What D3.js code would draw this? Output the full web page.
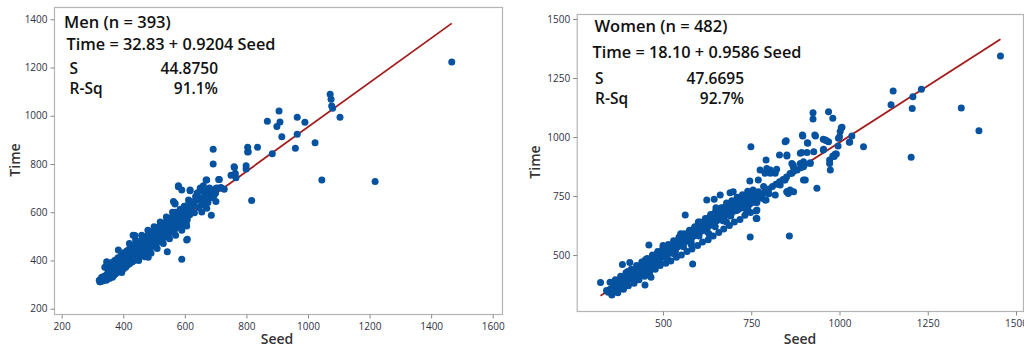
<!DOCTYPE html>
<html><head><meta charset="utf-8">
<script src="https://cdn.jsdelivr.net/npm/d3@7"></script>
<style>body{margin:0;background:#fff}svg{display:block}text{font-family:"Open Sans",sans-serif}</style>
</head><body>
<svg id="c" width="1024" height="347"></svg>
<script>
// ---------- DATA ----------
const menTitle = "Men (n = 393)";
const menEq = "Time = 32.83 + 0.9204 Seed";
const menS = "44.8750";
const menR = "91.1%";
const menIntercept = 32.83, menSlope = 0.9204;
const menXTicks = [200,400,600,800,1000,1200,1400,1600];
const menYTicks = [200,400,600,800,1000,1200,1400];
const menPoints = [
[322,318],[325,312],[328,322],[330,330],[333,315],[335,325],[338,335],[340,320],[342,330],[345,340],[347,328],[350,345],[352,335],[355,325],[356,350],[358,340],[360,333],[362,355],[364,345],[365,330],[367,360],[368,348],[370,340],[372,365],[373,352],[375,345],[377,370],[378,358],[380,350],[382,375],[383,362],[385,355],[386,385],[388,368],[390,360],[391,380],[393,372],[395,350],[396,390],[398,378],[400,365],[401,395],[403,385],[405,372],[406,400],[408,388],[410,378],[411,405],[413,392],[415,382],[416,410],[418,398],[420,386],[421,415],[423,402],[425,392],[426,420],[428,408],[430,396],[431,428],[433,414],[435,400],[436,432],[438,418],[440,405],[441,438],[443,424],[445,410],[446,442],[448,430],[450,415],[451,448],[453,436],[455,422],[456,452],[458,440],[460,428],[461,458],[463,446],[465,432],[466,462],[468,450],[470,438],[471,468],[473,456],[475,442],[476,472],[478,462],[480,448],[481,478],[483,466],[485,452],[486,485],[488,472],[490,458],[491,490],[493,478],[495,462],[496,495],[498,484],[500,470],[501,500],[503,488],[505,475],[506,505],[508,494],[510,480],[511,512],[513,498],[515,485],[516,518],[518,504],[520,490],[521,522],[523,510],[525,495],[526,528],[528,514],[530,500],[531,535],[533,520],[535,505],[536,540],[538,526],[540,512],[541,545],[543,530],[545,518],[546,550],[548,536],[550,522],[552,555],[554,540],[556,528],[558,560],[560,548],[562,535],[565,565],[567,552],[570,540],[572,572],[575,558],[578,548],[580,580],[583,565],[586,555],[590,590],[593,572],[596,562],[600,598],[604,580],[608,570],[612,605],[616,590],[620,620],[625,600],
[340,372],[345,318],[352,380],[358,330],[362,392],[368,338],[372,400],[378,352],[382,410],[388,358],[392,420],[398,370],[402,432],[408,372],[412,440],[418,388],[422,452],[428,395],[432,460],[438,405],[442,470],[448,412],[452,478],[458,425],[462,488],[468,430],[472,498],[478,442],[482,505],[488,450],[492,515],[498,462],[502,525],[508,470],[512,538],[518,480],[522,545],[528,490],[532,555],[538,500],[542,565],[548,512],[552,575],[558,520],[562,585],[568,530],[572,595],[578,540],[585,612],[592,550],[598,625],[605,560],[395,415],[415,440],[435,450],[455,470],[475,490],[495,510],[515,525],[535,545],[555,565],[575,580],[405,385],[425,405],[445,425],[465,445],[485,465],[505,485],[525,505],[545,525],[565,545],[585,570],
[420,470],[440,485],[460,505],[480,525],[500,540],[520,560],[540,580],[560,600],[450,400],[470,415],[490,430],[510,450],[530,470],[550,490],[570,505],[590,525],[410,420],[430,430],[450,455],[470,470],[490,485],[510,505],[530,520],[550,540],[570,560],[590,575],[380,395],[360,375],[350,360],[370,385],[390,400],[415,395],[435,415],[455,435],[475,455],[495,475],[515,495],[535,515],[555,535],[575,555],[595,580],
[579,706],[432,505],[384,443],[346,395],[606,485],[590,405],[481,413],[543,436],[438,504],[447,405],[348,388],[324,312],
[608,488],[606,543],[590,537],[563,644],[568,634],[579,710],[590,692],[612,651],[617,689],[631,598],[655,601],[671,616],[649,689],[660,695],[669,734],[686,587],[701,645],[701,699],[717,703],[728,695],[710,736],[692,861],[692,800],[750,753],[761,786],[764,761],[766,743],[799,793],[799,779],[804,869],[804,850],[836,869],[868,977],[884,842],[899,955],[906,1020],[909,974],[915,913],[959,865],[965,994],[965,923],[990,973],[1023,888],[1045,734],[1072,1089],[1075,1068],[1077,1040],[1080,1031],[1104,994],[1218,727],[1467,1223],[817,649],
[806,851],[760,789],[671,734],[712,736],[617,692],[660,692],[720,699],[568,637],
[640,650],[645,620],[650,660],[655,640],[660,630],[665,670],[670,655],[675,640],[680,680],[685,660],[690,690],[695,670],[700,680],[705,700],[630,640],[635,665],[625,630],[620,645],[615,620],[610,630],[605,615],[640,680],[650,700],[660,710],[670,690],[680,700],[600,620],[595,610],[585,600],[575,590],[570,600],[565,585],[560,578],[555,570],[550,565],[545,560],[540,555],[535,550],[530,545],[525,540],[520,535],[515,530],[510,525]
];

const womenTitle = "Women (n = 482)";
const womenEq = "Time = 18.10 + 0.9586 Seed";
const womenS = "47.6695";
const womenR = "92.7%";
const womenIntercept = 18.10, womenSlope = 0.9586;
const womenXTicks = [500,750,1000,1250,1500];
const womenYTicks = [500,750,1000,1250,1500];
const womenPoints = [
[340,350],[345,342],[350,355],[355,348],[358,360],[360,352],[363,365],[365,345],[368,372],[370,358],[372,365],[375,378],[378,362],[380,385],[382,370],[385,392],[387,378],[390,395],[392,382],[395,402],[397,388],[400,410],[402,395],[405,415],[407,400],[410,420],[412,405],[415,428],[417,410],[420,432],[422,415],[425,438],[427,420],[430,442],[432,425],[435,448],[437,430],[440,452],[442,435],[445,458],[447,440],[450,462],[452,445],[455,468],[457,450],[460,472],[462,455],[465,478],[467,460],[470,482],[472,465],[475,488],[477,470],[480,492],[482,475],[485,498],[487,480],[490,502],[492,485],[495,508],[497,490],[500,512],[502,495],[505,518],[507,500],[510,522],[512,505],[515,528],[517,510],[520,532],[522,515],[525,540],[527,520],[530,545],[532,525],[535,550],[537,530],[540,555],[542,535],[545,562],[547,540],[550,568],[552,545],[555,572],[557,550],[560,578],[562,555],[565,585],[567,560],[570,590],[572,565],[575,595],[577,570],[580,600],[582,575],[585,608],[587,580],[590,612],[592,585],[595,618],[597,590],[600,625],[602,595],[605,630],[607,600],[610,635],[612,605],[615,640],[617,610],[620,648],[622,615],[625,652],[627,620],[630,658],[632,625],[635,665],[637,630],[640,670],[642,635],[645,675],[647,640],[650,682],[652,645],[655,688],[657,650],[660,692],[665,660],[670,700],[675,665],[680,705],[685,672],[690,712],[695,680],[700,718],[705,688],[710,725],[715,695],[720,730],[725,700],[730,738],[735,705],[740,745],[745,715],[750,752],[755,722],[760,760],[765,730],[770,768],[780,740],[790,780],[800,760],
[350,385],[355,330],[365,395],[372,340],[380,410],[388,355],[395,425],[402,370],[410,440],[418,380],[425,455],[432,395],[440,470],[448,410],[455,485],[462,425],[470,500],[478,440],[485,515],[492,455],[500,530],[508,465],[515,545],[522,475],[530,560],[538,490],[545,575],[552,500],[560,590],[568,515],[575,605],[582,525],[590,620],[598,540],[605,640],[612,555],[620,655],[628,565],[635,672],[642,580],[650,690],[658,595],[665,700],[672,610],[680,720],[688,625],[695,730],[702,640],[710,745],[718,650],[725,755],[732,668],[740,770],[748,680],[755,775],[362,375],[385,395],[408,420],[430,440],[452,460],[475,485],[498,510],[520,530],[542,555],[565,575],[588,600],[610,620],[632,640],[655,665],[678,690],[700,710],[420,400],[445,420],[468,445],[490,470],[512,490],[535,515],[558,535],[580,555],[602,580],[625,600],[648,620],[670,645],[692,665],
[360,370],[375,390],[392,405],[410,425],[428,445],[445,462],[462,480],[480,500],[498,520],[515,535],[532,550],[550,560],[568,580],[585,595],[602,615],[620,635],[638,650],[655,675],[672,690],[690,690],[708,705],[725,720],[742,730],[760,750],[370,372],[390,388],[412,415],[435,430],[458,455],[480,480],[502,500],[525,525],[548,550],[570,570],[592,598],[615,615],[638,635],[660,680],[705,725],[725,740],[745,760],[400,430],[450,480],[500,540],[550,590],[600,640],[650,700],[380,360],[430,410],[480,460],[530,505],[580,545],[630,590],[680,640],
[323,383],[359,359],[385,460],[406,468],[460,542],[449,373],[466,406],[584,462],[563,670],[624,733],[645,736],[662,754],[690,764],[746,814],[747,576],[858,580],[749,959],[846,980],
[1456,1343],[1395,1027],[1345,1123],[1232,1202],[1208,1171],[1206,1121],[1152,1195],[1146,1137],[1203,914],[1068,959],[1035,1004],[1029,979],[1007,1041],[1002,1023],[1000,1001],[996,962],[991,928],[981,920],[972,903],[974,860],[972,888],[969,1107],[981,1079],[960,987],[969,980],[955,948],[925,1103],[925,1076],[932,1004],[910,973],[896,1004],[927,938],[908,934],[889,931],[917,888],[898,818],[936,783],[851,920],[830,924],
[792,903],[804,860],[818,754],[789,733],[764,655],[764,686],[766,722],[737,686],[732,733],[762,761],[785,790],[770,818],[804,846],[818,846],[832,797],[842,818],[865,846],[865,888],[870,768],[851,768],[889,888],[898,874],[794,867],[789,846],[775,860],
[849,984],[822,863],[699,768],[766,691],[766,655],[761,726],[792,733],[851,768],[869,874],[898,895],[903,818],[860,775],[1028,978],[1005,1039],[997,995],[988,928],[930,1008],[954,990],[962,985],[954,945],[909,976],[895,1008],[893,934],[851,924],[917,891],[869,881],[855,761],[846,818],[985,917],
[700,700],[710,690],[720,705],[730,715],[740,700],[750,725],[760,740],[770,745],[780,760],[790,765],[800,780],[810,790],[820,800],[830,810],[840,820],[850,830],[860,845],[870,855],[880,860],[890,870],[900,880],[680,690],[690,700],[660,670],[670,680]
];

// ---------- DRAW ----------
const svg = d3.select("#c");
const dotColor = "#0552a0", lineColor = "#a31d1d";

function panel(cfg){
  const g = svg.append("g");
  const x = d3.scaleLinear().domain(cfg.xDom).range(cfg.xRange);
  const y = d3.scaleLinear().domain(cfg.yDom).range(cfg.yRange);
  g.append("rect").attr("x",cfg.frame[0]+0.5).attr("y",cfg.frame[1]+0.5)
    .attr("width",cfg.frame[2]-cfg.frame[0]).attr("height",cfg.frame[3]-cfg.frame[1])
    .attr("fill","none").attr("stroke","#b4b4b4").attr("stroke-width",1.2);
  const xa = g.append("g").attr("transform",`translate(0,${cfg.frame[3]+0.5})`)
    .call(d3.axisBottom(x).tickValues(cfg.xTicks).tickSize(4).tickPadding(4).tickFormat(d3.format("d")));
  const ya = g.append("g").attr("transform",`translate(${cfg.frame[0]+0.5},0)`)
    .call(d3.axisLeft(y).tickValues(cfg.yTicks).tickSize(4).tickPadding(3).tickFormat(d3.format("d")));
  [xa,ya].forEach(a=>{
    a.select(".domain").remove();
    a.selectAll(".tick line").attr("stroke","#8a8a8a");
    a.selectAll(".tick text").attr("fill","#2f2f3f").style("font-size","10px").style("font-family","'Open Sans',sans-serif");
  });
  const ext = d3.extent(cfg.points,d=>d[0]);
  g.append("line").attr("x1",x(ext[0])).attr("y1",y(cfg.a+cfg.b*ext[0]))
    .attr("x2",x(ext[1])).attr("y2",y(cfg.a+cfg.b*ext[1]))
    .attr("stroke",lineColor).attr("stroke-width",1.8);
  g.append("g").selectAll("circle").data(cfg.points).join("circle")
    .attr("cx",d=>x(d[0])).attr("cy",d=>y(d[1])).attr("r",3.5).attr("fill",dotColor);
  g.append("text").attr("x",cfg.xTitle[0]).attr("y",cfg.xTitle[1]).attr("text-anchor","middle")
    .attr("fill","#333").style("font-size","14px").style("font-weight","600").text("Seed");
  g.append("text").attr("transform",`translate(${cfg.yTitle[0]},${cfg.yTitle[1]}) rotate(-90)`).attr("text-anchor","middle")
    .attr("fill","#333").style("font-size","14px").style("font-weight","600").text("Time");
  const t = cfg.text, w = "600";
  g.append("text").attr("x",t.x0).attr("y",t.b0).style("font-size","16.5px").style("font-weight",w).attr("fill","#111").text(cfg.title);
  g.append("text").attr("x",t.x1).attr("y",t.b1).style("font-size","16.3px").style("font-weight",w).attr("fill","#111").text(cfg.eq);
  g.append("text").attr("x",t.x2).attr("y",t.b2).style("font-size","15.5px").style("font-weight",w).attr("fill","#111").text("S");
  g.append("text").attr("x",t.xr).attr("y",t.b2).attr("text-anchor","end").style("font-size","15.5px").style("font-weight",w).attr("fill","#111").text(cfg.s);
  g.append("text").attr("x",t.x2).attr("y",t.b3).style("font-size","15.5px").style("font-weight",w).attr("fill","#111").text("R-Sq");
  g.append("text").attr("x",t.xr).attr("y",t.b3).attr("text-anchor","end").style("font-size","15.5px").style("font-weight",w).attr("fill","#111").text(cfg.r);
}

panel({xDom:[200,1600], xRange:[61.7,492.7], yDom:[200,1400], yRange:[308.7,19.3],
  frame:[54,7,502,314], xTicks:menXTicks, yTicks:menYTicks, points:menPoints,
  a:menIntercept, b:menSlope, xTitle:[277,344], yTitle:[20,160],
  title:menTitle, eq:menEq, s:menS, r:menR,
  text:{x0:64,b0:27.5,x1:66.5,b1:50,x2:69.5,b2:74,b3:94,xr:218}});

panel({xDom:[500,1500], xRange:[663,1016], yDom:[500,1500], yRange:[255,19],
  frame:[576.7,14,1023,311], xTicks:womenXTicks, yTicks:womenYTicks, points:womenPoints,
  a:womenIntercept, b:womenSlope, xTitle:[800,344], yTitle:[540,162],
  title:womenTitle, eq:womenEq, s:womenS, r:womenR,
  text:{x0:594.5,b0:31.7,x1:592.5,b1:57.5,x2:595,b2:84,b3:104,xr:744}});
</script>
</body></html>
